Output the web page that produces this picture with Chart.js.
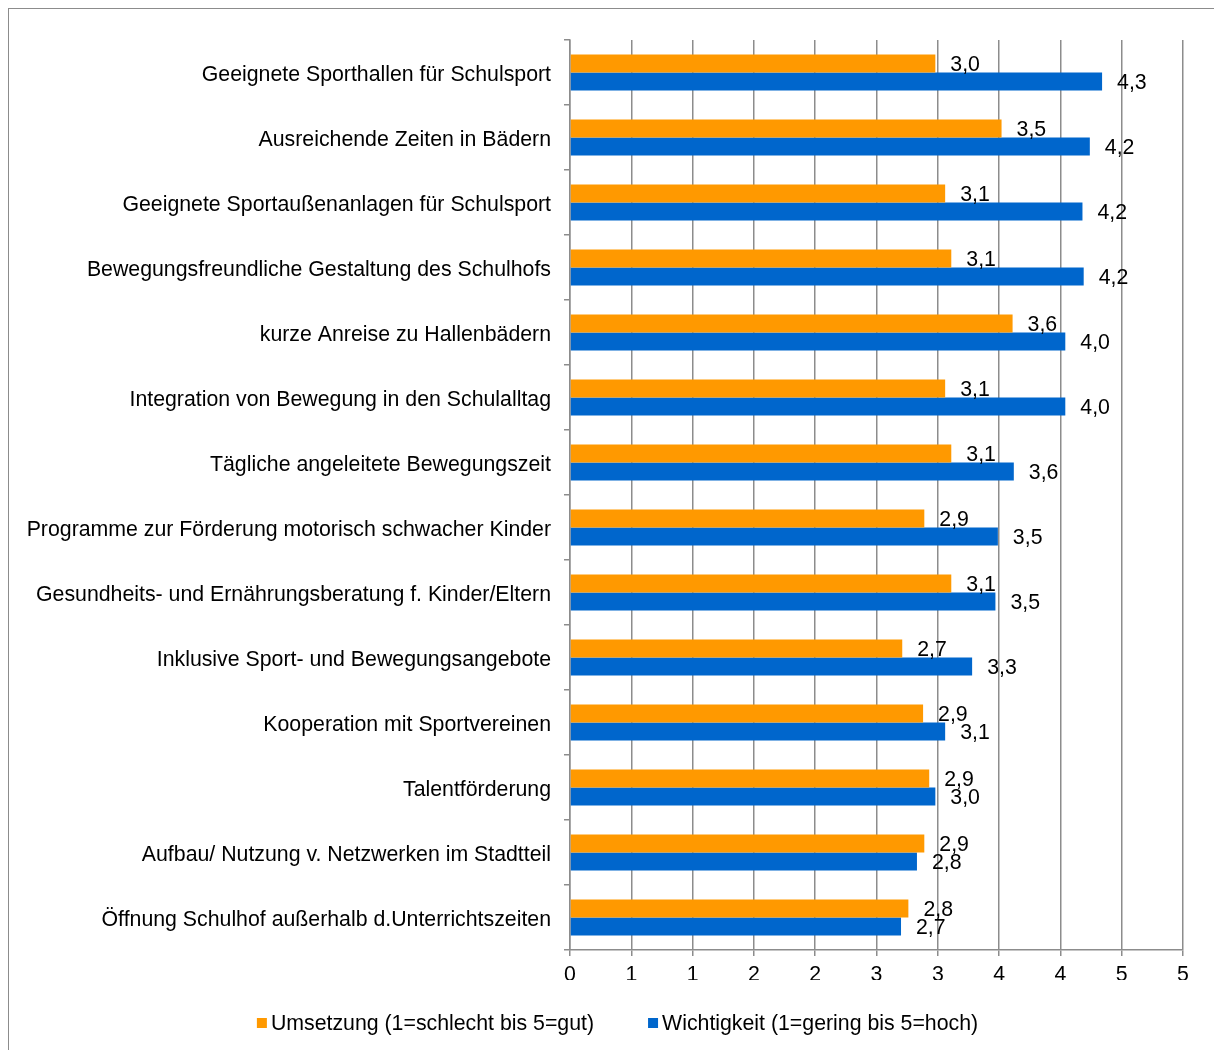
<!DOCTYPE html>
<html>
<head>
<meta charset="utf-8">
<title>Schulsport Bewertung</title>
<script src="https://cdn.jsdelivr.net/npm/chart.js"></script>
<style>
    body { margin: 0; background: #ffffff; }
    #myChart { display: block; }
</style>
</head>
<body>
<canvas id="myChart" width="1214" height="1050"></canvas>
<script>

        //chart data ------------------------------------------------------------------------------------------------------------

        var categories = [
            "Geeignete Sporthallen für Schulsport",
            "Ausreichende Zeiten in Bädern",
            "Geeignete Sportaußenanlagen für Schulsport",
            "Bewegungsfreundliche Gestaltung des Schulhofs",
            "kurze Anreise zu Hallenbädern",
            "Integration von Bewegung in den Schulalltag",
            "Tägliche angeleitete Bewegungszeit",
            "Programme zur Förderung motorisch schwacher Kinder",
            "Gesundheits- und Ernährungsberatung f. Kinder/Eltern",
            "Inklusive Sport- und Bewegungsangebote",
            "Kooperation mit Sportvereinen",
            "Talentförderung",
            "Aufbau/ Nutzung v. Netzwerken im Stadtteil",
            "Öffnung Schulhof außerhalb d.Unterrichtszeiten"
        ];

        var umsetzung = [2.98, 3.52, 3.06, 3.11, 3.61, 3.06, 3.11, 2.89, 3.11, 2.71, 2.88, 2.93, 2.89, 2.76];
        var wichtigkeit = [4.34, 4.24, 4.18, 4.19, 4.04, 4.04, 3.62, 3.49, 3.47, 3.28, 3.06, 2.98, 2.83, 2.70];

        var seriesNames = ["Umsetzung (1=schlecht bis 5=gut)", "Wichtigkeit (1=gering bis 5=hoch)"];
        var seriesColors = ["#ff9900", "#0066cc"];

        // x axis: 0 to 5 in steps of 0.5, labels shown without decimals (0 1 1 2 2 ...)
        var xMin = 0;
        var xMax = 5;
        var xStep = 0.5;

        var fontName = "'Liberation Sans', Arial, sans-serif";
        var fontSize = 21.3;
        var gridColor = "#8c8c8c";

        function formatValue(v) {
            return v.toFixed(1).replace(".", ",");
        }

        //plugins ------------------------------------------------------------------------------------------------------------

        // grey frame round the whole chart (cut off at the right and bottom)
        var framePlugin = {
            id: "frame",
            beforeDraw: function (chart) {
                var ctx = chart.ctx;
                ctx.save();
                ctx.fillStyle = "#ffffff";
                ctx.fillRect(0, 0, chart.width, chart.height);
                ctx.strokeStyle = gridColor;
                ctx.lineWidth = 1;
                ctx.strokeRect(8.5, 8.5, 1300, 1200);
                ctx.restore();
            }
        };

        // value labels right of each bar
        var valueLabels = {
            id: "valueLabels",
            afterDatasetsDraw: function (chart) {
                var ctx = chart.ctx;
                ctx.save();
                ctx.font = fontSize + "px " + fontName;
                ctx.fillStyle = "#000000";
                ctx.textAlign = "left";
                ctx.textBaseline = "middle";
                chart.data.datasets.forEach(function (ds, i) {
                    var meta = chart.getDatasetMeta(i);
                    meta.data.forEach(function (bar, j) {
                        ctx.fillText(formatValue(ds.data[j]), bar.x + 15, bar.y + 2);
                    });
                });
                ctx.restore();
            }
        };

        // legend under the axis, small squares close to the text
        var bottomLegend = {
            id: "bottomLegend",
            afterDraw: function (chart) {
                var ctx = chart.ctx;
                var box = 10, gap = 4, itemGap = 54;
                ctx.save();
                ctx.font = fontSize + "px " + fontName;
                ctx.textBaseline = "middle";
                ctx.textAlign = "left";
                var widths = chart.data.datasets.map(function (ds) {
                    return box + gap + ctx.measureText(ds.label).width;
                });
                var total = widths.reduce(function (a, b) { return a + b; }, 0) + itemGap * (widths.length - 1);
                var x = 617.5 - total / 2;
                var y = 1023;
                chart.data.datasets.forEach(function (ds, i) {
                    ctx.fillStyle = ds.backgroundColor;
                    ctx.fillRect(x, y - box / 2, box, box);
                    ctx.fillStyle = "#000000";
                    ctx.fillText(ds.label, x + box + gap, y + 1);
                    x += widths[i] + itemGap;
                });
                ctx.restore();
            }
        };

        //chart ------------------------------------------------------------------------------------------------------------

        var ctx = document.getElementById("myChart").getContext('2d');
        var chart = new Chart(ctx, {
            type: 'bar',
            data: {
                labels: categories,
                datasets: [{
                    label: seriesNames[0],
                    backgroundColor: seriesColors[0],
                    data: umsetzung
                }, {
                    label: seriesNames[1],
                    backgroundColor: seriesColors[1],
                    data: wichtigkeit
                }]
            },
            options: {
                indexAxis: 'y',
                responsive: false,
                animation: false,
                devicePixelRatio: 1,
                categoryPercentage: 36 / 65,
                barPercentage: 1,
                layout: {
                    padding: { left: 0, right: 31, top: 40, bottom: 70 }
                },
                plugins: {
                    legend: { display: false },
                    tooltip: { enabled: false }
                },
                scales: {
                    x: {
                        min: xMin,
                        max: xMax,
                        afterFit: function (scale) { scale.height = 30; },
                        ticks: {
                            stepSize: xStep,
                            color: "#000000",
                            padding: 6,
                            font: { family: fontName, size: fontSize },
                            callback: function (value) { return Math.round(value); }
                        },
                        grid: { color: gridColor, tickLength: 6, lineWidth: 1.5 },
                        border: { color: gridColor, width: 1.5 }
                    },
                    y: {
                        afterFit: function (scale) { scale.width = 570; },
                        ticks: {
                            color: "#000000",
                            padding: 13,
                            labelOffset: 2.5,
                            font: { family: fontName, size: fontSize }
                        },
                        grid: { offset: true, drawOnChartArea: false, color: gridColor, tickLength: 6, lineWidth: 1.5 },
                        border: { color: gridColor, width: 1.5 }
                    }
                }
            },
            plugins: [framePlugin, valueLabels, bottomLegend]
        });

</script>
</body>
</html>
